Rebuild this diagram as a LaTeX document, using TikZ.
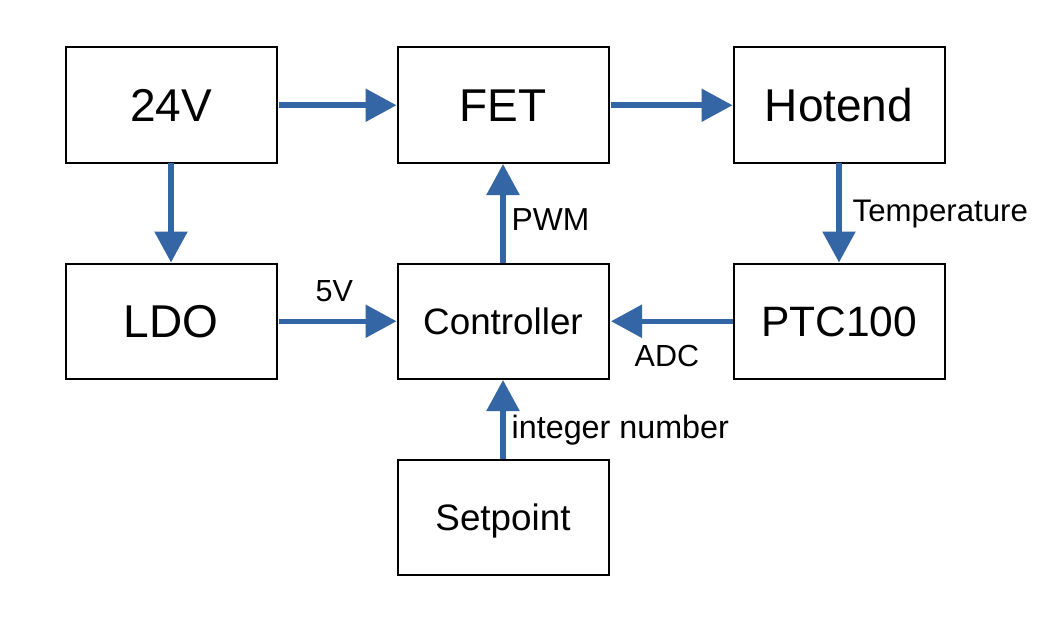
\documentclass[tikz,border=0pt]{standalone}
\usepackage{fontspec}
\setmainfont{Liberation Sans}
\usetikzlibrary{arrows.meta}
\definecolor{arrowblue}{HTML}{3465A4}
\tikzset{
  blk/.style={draw=black, line width=2pt, minimum width=211pt, minimum height=115.5pt, inner sep=0pt, text depth=0pt},
  bigtxt/.style={font=\fontsize{46}{46}\selectfont, text height=33pt},
  ptctxt/.style={font=\fontsize{42.5}{42.5}\selectfont, text height=30.4pt},
  midtxt/.style={font=\fontsize{36.8}{36.8}\selectfont, text height=26.3pt},
  lbl/.style={font=\fontsize{30.5}{30.5}\selectfont, anchor=base west, inner sep=0pt},
  flow/.style={draw=arrowblue, line width=5.5pt, -{Triangle[length=31pt, width=32pt]}}
}
\begin{document}
\begin{tikzpicture}[x=1pt, y=-1pt]
\useasboundingbox[fill=white] (0,0) rectangle (1053,618);
\node[blk, bigtxt] (v24) at (171,105.25) {24V};
\node[blk, bigtxt] (fet) at (503,105.25) {FET};
\node[blk, bigtxt] (hot) at (839,105.25) {Hotend};
\node[blk, bigtxt] (ldo) at (171,321.25) {LDO};
\node[blk, midtxt] (ctl) at (503,321.25) {Controller};
\node[blk, ptctxt] (ptc) at (839,321.25) {PTC100};
\node[blk, midtxt] (set) at (503,517.25) {Setpoint};

\draw[flow] ([xshift=1.5pt]v24.east) -- (fet.west);
\draw[flow] ([xshift=1.5pt]fet.east) -- (hot.west);
\draw[flow] ([yshift=1pt]v24.south) -- (ldo.north);
\draw[flow] ([xshift=1.5pt]ldo.east) -- (ctl.west);
\draw[flow] (ctl.north) -- (fet.south);
\draw[flow] ([yshift=1pt]hot.south) -- (ptc.north);
\draw[flow] (ptc.west) -- ([xshift=1.5pt]ctl.east);
\draw[flow] (set.north) -- (ctl.south);

\node[lbl, font=\fontsize{31.8}{31.8}\selectfont] (lpwm) at (511.5,230) {PWM};
\node[lbl] (l5v) at (315.5,301.7) {5V};
\node[lbl, font=\fontsize{31.2}{31.2}\selectfont] (ltemp) at (852.5,221.7) {Temperature};
\node[lbl] (ladc) at (634.5,366.5) {ADC};
\node[lbl, font=\fontsize{32.3}{32.3}\selectfont] (lint) at (511.5,438.3) {integer number};
\end{tikzpicture}
\end{document}
